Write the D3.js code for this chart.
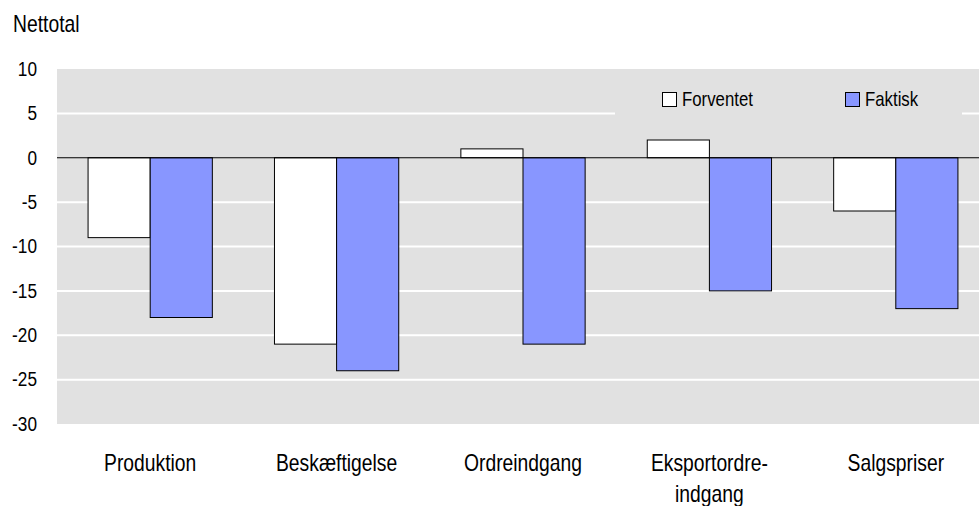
<!DOCTYPE html>
<html>
<head>
<meta charset="utf-8">
<script src="https://cdn.jsdelivr.net/npm/d3@7"></script>
<style>
  body { margin: 0; background: #fff; }
  svg text { font-family: "Liberation Sans Narrow", "Arial Narrow", "Liberation Sans", Arial, sans-serif; fill: #000; }
</style>
</head>
<body>
<div id="chart"></div>
<script>
const categories = ["Produktion", "Beskæftigelse", "Ordreindgang", "Eksportordre-\nindgang", "Salgspriser"];
const seriesNames = ["Forventet", "Faktisk"];
const forventet = [-9, -21, 1, 2, -6];
const faktisk = [-18, -24, -21, -15, -17];
const yTicks = [10, 5, 0, -5, -10, -15, -20, -25, -30];
const colors = ["#ffffff", "#8896ff"];

const width = 979, height = 506;
const plot = { left: 57, right: 989, top: 69, bottom: 424 };
const squeeze = 0.84; // fake a narrow font

const svg = d3.select("#chart").append("svg")
    .attr("width", width)
    .attr("height", height);

// text placed at (x, y), horizontally condensed around its anchor
function place(sel, fx, fy) {
    sel.attr("transform", (d, i) => "translate(" + fx(d, i) + "," + fy(d, i) + ") scale(" + squeeze + ",1)");
}

const x = d3.scaleBand()
    .domain(categories)
    .range([plot.left, plot.right])
    .paddingInner(1 / 3)
    .paddingOuter(1 / 6);

const x1 = d3.scaleBand()
    .domain(seriesNames)
    .range([0, x.bandwidth()]);

const y = d3.scaleLinear()
    .domain([-30, 10])
    .range([plot.bottom, plot.top]);

// plot background
svg.append("rect")
    .attr("x", plot.left)
    .attr("y", plot.top)
    .attr("width", plot.right - plot.left)
    .attr("height", plot.bottom - plot.top)
    .style("fill", "#e1e1e1");

// white grid lines
svg.selectAll(".grid")
    .data(yTicks.filter(d => d !== 0 && d !== 10 && d !== -30))
    .enter().append("line")
    .attr("class", "grid")
    .attr("x1", plot.left)
    .attr("x2", plot.right)
    .attr("y1", d => y(d))
    .attr("y2", d => y(d))
    .style("stroke", "#fff")
    .style("stroke-width", 2);

// legend box hides part of the grid
svg.append("rect")
    .attr("x", 615)
    .attr("y", 82)
    .attr("width", 347)
    .attr("height", 46)
    .style("fill", "#e1e1e1");

// y axis labels
svg.selectAll(".yLabel")
    .data(yTicks)
    .enter().append("text")
    .attr("class", "yLabel")
    .attr("dy", "0.33em")
    .style("text-anchor", "end")
    .style("font-size", "20.5px")
    .text(d => d)
    .call(place, () => 37, d => y(d));

svg.append("text")
    .datum("Nettotal")
    .style("font-size", "23px")
    .text(d => d)
    .call(place, () => 13, () => 31.5);

// bars
const rows = categories.map((c, i) => ({ cat: c, values: [forventet[i], faktisk[i]] }));

const groups = svg.selectAll(".cat")
    .data(rows)
    .enter().append("g")
    .attr("class", "cat")
    .attr("transform", d => "translate(" + x(d.cat) + ",0)");

groups.selectAll("rect")
    .data(d => d.values.map((v, j) => ({ name: seriesNames[j], value: v, j: j })))
    .enter().append("rect")
    .attr("x", d => x1(d.name))
    .attr("y", d => y(Math.max(0, d.value)))
    .attr("width", x1.bandwidth())
    .attr("height", d => Math.abs(y(d.value) - y(0)))
    .style("fill", d => colors[d.j])
    .style("stroke", "#000")
    .style("stroke-width", 1);

// zero line
svg.append("line")
    .attr("x1", plot.left)
    .attr("x2", plot.right)
    .attr("y1", y(0))
    .attr("y2", y(0))
    .style("stroke", "#000")
    .style("stroke-width", 1);

// category labels
const catLabels = svg.selectAll(".catLabel")
    .data(categories)
    .enter().append("text")
    .attr("class", "catLabel")
    .style("text-anchor", "middle")
    .style("font-size", "23px")
    .call(place, d => x(d) + x.bandwidth() / 2, () => 471);

catLabels.selectAll("tspan")
    .data(d => d.split("\n"))
    .enter().append("tspan")
    .attr("x", 0)
    .attr("dy", (d, i) => i === 0 ? 0 : 31)
    .text(d => d);

// legend
const legend = svg.selectAll(".legend")
    .data(seriesNames)
    .enter().append("g")
    .attr("class", "legend")
    .attr("transform", (d, i) => "translate(" + [662.5, 845.5][i] + ",92.5)");

legend.append("rect")
    .attr("width", 14)
    .attr("height", 14)
    .style("fill", (d, i) => colors[i])
    .style("stroke", "#000")
    .style("stroke-width", 1);

legend.append("text")
    .style("font-size", "20px")
    .text(d => d)
    .call(place, () => 19.5, () => 13.5);
</script>
</body>
</html>
